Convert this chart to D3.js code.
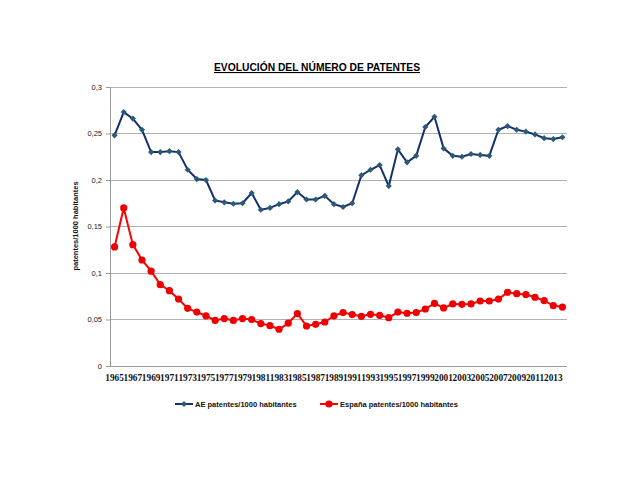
<!DOCTYPE html>
<html><head><meta charset="utf-8">
<script src="https://cdn.jsdelivr.net/npm/d3@7"></script>
<style>body{margin:0;background:#fff}svg{display:block}</style>
</head><body>
<svg id="c" width="640" height="480"></svg>
<script>
const years = d3.range(1965, 2015);
const aeValues = [0.248,0.273,0.266,0.254,0.230,0.230,0.231,0.230,0.211,0.201,0.200,0.178,0.176,0.1745,0.175,0.186,0.168,0.170,0.174,0.177,0.187,0.179,0.179,0.183,0.174,0.171,0.175,0.205,0.211,0.216,0.1935,0.233,0.219,0.226,0.257,0.268,0.234,0.226,0.225,0.228,0.227,0.226,0.254,0.258,0.254,0.252,0.249,0.245,0.244,0.246];
const esValues = [0.128,0.170,0.1305,0.114,0.102,0.0875,0.081,0.072,0.062,0.058,0.054,0.049,0.051,0.049,0.051,0.050,0.0456,0.0434,0.0395,0.046,0.0563,0.043,0.0448,0.0473,0.054,0.0574,0.0553,0.0534,0.0556,0.0545,0.052,0.058,0.0567,0.0574,0.0613,0.0674,0.0624,0.0667,0.0663,0.0667,0.0699,0.0699,0.072,0.0792,0.0778,0.0768,0.0739,0.0703,0.065,0.0634];
const yTicks = [0,0.05,0.1,0.15,0.2,0.25,0.3];
const xTickLabels = years.filter((y,i)=>i%2===0);
const seriesNames = ["AE patentes/1000 habitantes","España patentes/1000 habitantes"];
const titleText = "EVOLUCIÓN DEL NÚMERO DE PATENTES";
const yLabel = "patentes/1000 habitantes";

const svg = d3.select("#c");
const L=110, R=567, T=87, B=366;
const x = d3.scaleBand().domain(years).range([L,R]);
const y = d3.scaleLinear().domain([0,0.3]).range([B,T]);
const fmt = d => String(d).replace(".", ",");

// gridlines
svg.append("g").selectAll("line").data(yTicks.slice(1)).join("line")
  .attr("x1",L).attr("x2",R).attr("y1",d=>y(d)).attr("y2",d=>y(d))
  .attr("stroke","#b0b0b0").attr("stroke-width",1).attr("shape-rendering","crispEdges");

// y axis
const ya = svg.append("g").attr("transform",`translate(${L},0)`)
  .call(d3.axisLeft(y).tickValues(yTicks).tickFormat(fmt).tickSize(4).tickPadding(4));
ya.select(".domain").attr("stroke","#9a9a9a");
ya.selectAll(".tick line").attr("stroke","#9a9a9a");
ya.selectAll("text").attr("font-family","Liberation Sans, Arial, sans-serif").attr("font-size",7.5).attr("fill","#222");

// x axis
const xa = svg.append("g").attr("transform",`translate(0,${B})`)
  .call(d3.axisBottom(x).tickValues(xTickLabels).tickSize(0).tickPadding(8));
xa.select(".domain").attr("stroke","#9a9a9a").attr("d",`M${L},0.5H${R}`);
xa.selectAll("text").attr("font-family","Liberation Serif, serif").attr("font-weight","bold").attr("font-size",9.3).attr("fill","#111");

const cx = d => x(d)+x.bandwidth()/2;

// AE line
svg.append("path").datum(aeValues)
  .attr("d", d3.line().x((d,i)=>cx(years[i])).y(d=>y(d)))
  .attr("fill","none").attr("stroke","#13306b").attr("stroke-width",2);
svg.append("g").selectAll("path").data(aeValues).join("path")
  .attr("d", d3.symbol(d3.symbolDiamond2, 24))
  .attr("transform",(d,i)=>`translate(${cx(years[i])},${y(d)})`)
  .attr("fill","#2b5a78");

// España line
svg.append("path").datum(esValues)
  .attr("d", d3.line().x((d,i)=>cx(years[i])).y(d=>y(d)))
  .attr("fill","none").attr("stroke","#ff0000").attr("stroke-width",2);
svg.append("g").selectAll("circle").data(esValues).join("circle")
  .attr("cx",(d,i)=>cx(years[i])).attr("cy",d=>y(d)).attr("r",3.6)
  .attr("fill","#ee0000");

// title
svg.append("text").attr("x",317).attr("y",71).attr("text-anchor","middle")
  .attr("font-family","Liberation Sans Narrow, Liberation Sans, Arial, sans-serif").attr("font-weight","bold")
  .attr("font-size",11).attr("textLength",206).attr("lengthAdjust","spacingAndGlyphs")
  .attr("text-decoration","underline").attr("fill","#000").text(titleText);

// y label
svg.append("text").attr("transform","translate(78,226) rotate(-90)").attr("text-anchor","middle")
  .attr("font-family","Liberation Sans, Arial, sans-serif").attr("font-weight","bold")
  .attr("font-size",7.5).attr("fill","#111").text(yLabel);

// legend
const lg = svg.append("g");
const legItems = [{name:seriesNames[0],x:175,color:"#13306b",mk:"d",mc:"#2b5a78"},{name:seriesNames[1],x:320,color:"#ff0000",mk:"c",mc:"#ee0000"}];
legItems.forEach(it=>{
  lg.append("line").attr("x1",it.x).attr("x2",it.x+18).attr("y1",404).attr("y2",404).attr("stroke",it.color).attr("stroke-width",2);
  if(it.mk==="d") lg.append("path").attr("d",d3.symbol(d3.symbolDiamond2,24)).attr("transform",`translate(${it.x+9},404)`).attr("fill",it.mc);
  else lg.append("circle").attr("cx",it.x+9).attr("cy",404).attr("r",3.6).attr("fill",it.mc);
  lg.append("text").attr("x",it.x+20).attr("y",406.5).attr("font-family","Liberation Sans, Arial, sans-serif")
    .attr("font-size",7.5).attr("font-weight","bold").attr("fill","#111").text(it.name);
});
</script>
</body></html>
